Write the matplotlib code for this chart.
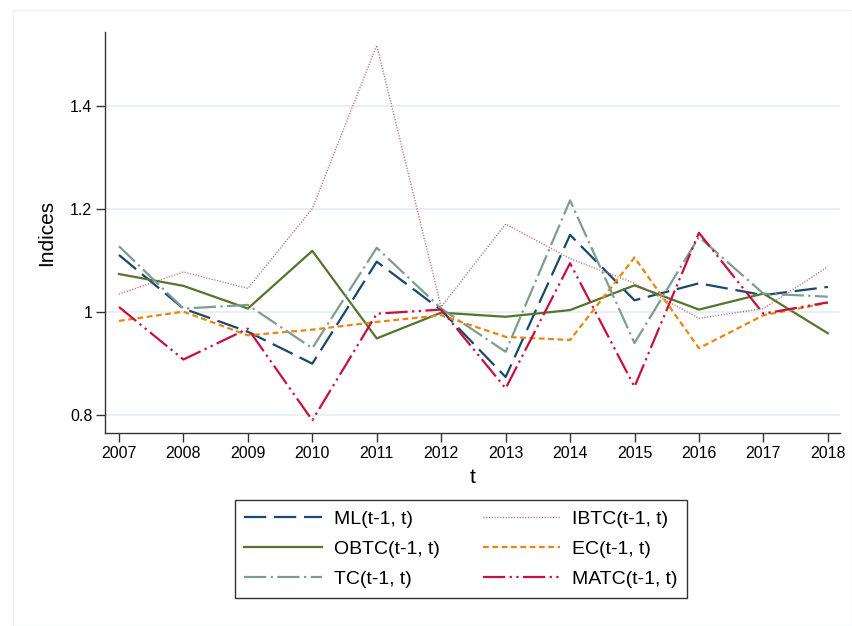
import matplotlib.pyplot as plt
from matplotlib.patches import Rectangle

plt.rcParams['font.family'] = ['Liberation Sans', 'DejaVu Sans']

# Yearly index values
years = [2007, 2008, 2009, 2010, 2011, 2012, 2013, 2014, 2015, 2016, 2017, 2018]
ml = [1.111, 1.007, 0.962, 0.900, 1.098, 1.004, 0.874, 1.150, 1.023, 1.056, 1.033, 1.049]
ibtc = [1.035, 1.078, 1.046, 1.201, 1.518, 1.010, 1.171, 1.104, 1.056, 0.988, 1.007, 1.088]
obtc = [1.074, 1.051, 1.007, 1.119, 0.949, 0.999, 0.991, 1.004, 1.052, 1.005, 1.036, 0.959]
ec = [0.983, 1.001, 0.955, 0.966, 0.981, 0.994, 0.952, 0.946, 1.106, 0.930, 0.994, 1.018]
tc = [1.128, 1.007, 1.014, 0.930, 1.125, 1.007, 0.923, 1.217, 0.940, 1.146, 1.036, 1.030]
matc = [1.010, 0.908, 0.968, 0.790, 0.997, 1.005, 0.852, 1.095, 0.855, 1.154, 0.997, 1.019]

fig = plt.figure(figsize=(8.52, 6.26), dpi=100)

# faint outer frame of the graph region
fig.patches.append(Rectangle((0.015, 0.0), 0.985, 0.984, transform=fig.transFigure,
                             fill=False, edgecolor='#eef2f5', lw=1))

ax = fig.add_axes([0.123, 0.308, 0.863, 0.641])

for y in [0.8, 1.0, 1.2, 1.4]:
    ax.axhline(y, color='#e4eef2', lw=1.2, zorder=0)

l_ml, = ax.plot(years, ml, color='#1a476f', lw=1.6, dashes=(10, 3.5), label='ML(t-1, t)')
l_ib, = ax.plot(years, ibtc, color='#c0657a', lw=1.0, dashes=(0.8, 1.2), label='IBTC(t-1, t)')
l_ob, = ax.plot(years, obtc, color='#55752f', lw=1.6, label='OBTC(t-1, t)')
l_ec, = ax.plot(years, ec, color='#e8860f', lw=1.6, dashes=(2.6, 1.6), label='EC(t-1, t)')
l_tc, = ax.plot(years, tc, color='#7f9c92', lw=1.6, dashes=(10, 2, 1, 2), label='TC(t-1, t)')
l_ma, = ax.plot(years, matc, color='#c8103e', lw=1.6, dashes=(10, 2, 1, 2, 1, 2), label='MATC(t-1, t)')

ax.set_xlim(2006.78, 2018.19)
ax.set_ylim(0.765, 1.544)
ax.set_xticks(years)
ax.set_yticks([0.8, 1.0, 1.2, 1.4])
ax.set_yticklabels(['0.8', '1', '1.2', '1.4'])
ax.tick_params(labelsize=11.5, length=6.5, width=1, color='#333333', pad=2.5)
for side in ['top', 'right']:
    ax.spines[side].set_visible(False)
for side in ['left', 'bottom']:
    ax.spines[side].set_color('#333333')
    ax.spines[side].set_linewidth(1)

ax.set_xlabel('t', fontsize=15, labelpad=5)
ax.set_ylabel('Indices', fontsize=15, labelpad=10)

leg = fig.legend(handles=[l_ml, l_ob, l_tc, l_ib, l_ec, l_ma], ncol=2,
                 loc='center', bbox_to_anchor=(0.541, 0.123),
                 fontsize=14, handlelength=4.0, handletextpad=0.6,
                 columnspacing=2.2, labelspacing=0.65, borderpad=0.5,
                 borderaxespad=0, fancybox=False, framealpha=1)
leg.get_frame().set_edgecolor('#333333')
leg.get_frame().set_linewidth(1)

fig.savefig('out.png', dpi=100)
